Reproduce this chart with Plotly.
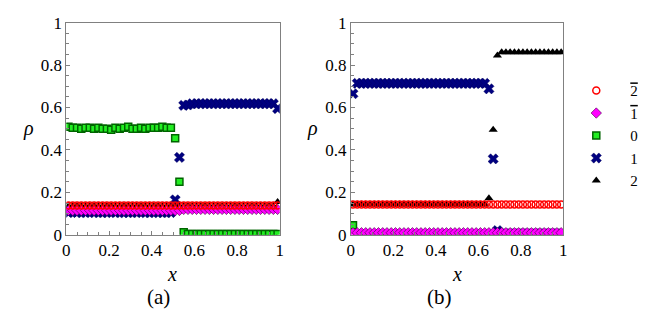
import plotly.graph_objects as go

# ---------------- data ----------------
x = [0.01, 0.03, 0.05, 0.07, 0.09, 0.11, 0.13, 0.15, 0.17, 0.19,
     0.21, 0.23, 0.25, 0.27, 0.29, 0.31, 0.33, 0.35, 0.37, 0.39,
     0.41, 0.43, 0.45, 0.47, 0.49, 0.51, 0.53, 0.55, 0.57, 0.59,
     0.61, 0.63, 0.65, 0.67, 0.69, 0.71, 0.73, 0.75, 0.77, 0.79,
     0.81, 0.83, 0.85, 0.87, 0.89, 0.91, 0.93, 0.95, 0.97, 0.99]

series_names = ['<span style="text-decoration:overline">2</span>',
                '<span style="text-decoration:overline">1</span>',
                "0", "1", "2"]

# panel (a)
a_m2 = [0.138] * 50
a_m1 = [0.115] * 27 + [0.12] * 23
a_0 = [0.51, 0.505, 0.505, 0.50, 0.505, 0.505, 0.50, 0.505, 0.50, 0.50,
       0.495, 0.505, 0.50, 0.505, 0.51, 0.50, 0.50, 0.505, 0.50, 0.505,
       0.505, 0.505, 0.51, 0.505, 0.505, 0.455, 0.25, 0.012] + [0.004] * 22
a_1 = [0.105, 0.108, 0.105, 0.106, 0.105, 0.107, 0.105, 0.106, 0.105, 0.105,
       0.107, 0.105, 0.106, 0.105, 0.105, 0.106, 0.105, 0.107, 0.105, 0.105,
       0.106, 0.105, 0.105, 0.106, 0.105, 0.165, 0.365, 0.61, 0.612] + [0.618] * 20 + [0.595]
a_2 = [0.136] * 49 + [0.155]

# panel (b)
b_m2 = [0.143] * 50
b_m1 = [0.01] * 50
b_0 = [0.045] + [0.003] * 49
b_1 = [0.665] + [0.714] * 31 + [0.688, 0.358, 0.02] + [0.005] * 15
b_2 = [0.143] * 32 + [0.172, 0.495, 0.845] + [0.861] * 15

# ---------------- styles ----------------
styles = [
    dict(symbol="circle-open", size=7, color="#ff0000", line=dict(color="#ff0000", width=1.5)),
    dict(symbol="diamond", size=8, color="#ff00ff", line=dict(color="#400040", width=0.6)),
    dict(symbol="square", size=7, color="#22ee22", line=dict(color="#006400", width=1.5)),
    dict(symbol="x", size=9, color="#000080", line=dict(color="#000060", width=0.5)),
    dict(symbol="triangle-up", size=8, color="#000000", line=dict(color="#000000", width=0)),
]

fig = go.Figure()
panels = [("x", "y", [a_m2, a_m1, a_0, a_1, a_2], True),
          ("x2", "y2", [b_m2, b_m1, b_0, b_1, b_2], False)]

for xa, ya, vals, show in panels:
    # reverse drawing order so the open circles sit on top
    for k in [4, 3, 2, 1, 0]:
        fig.add_trace(go.Scatter(
            x=x, y=vals[k], mode="markers", name=series_names[k],
            marker=styles[k], xaxis=xa, yaxis=ya,
            showlegend=show, legendrank=k + 1))

FONT = "Times New Roman"
LEGFONT = "Liberation Serif"
axis_common = dict(
    range=[0, 1], showgrid=False, zeroline=False,
    showline=True, linecolor="#808080", linewidth=1, mirror=True,
    ticks="inside", ticklen=4, tickcolor="#808080", tickwidth=1,
    tickvals=[0, 0.2, 0.4, 0.6, 0.8, 1],
    ticktext=["0", "0.2", "0.4", "0.6", "0.8", "1"],
    tickfont=dict(family=FONT, size=17, color="#000000"),
    ticklabeloverflow="allow",
    minor=dict(ticks="inside", ticklen=3, tickcolor="#808080", dtick=0.05, showgrid=False),
)

ytop = 1 - 6 / 312
ybot = 1 - 232 / 312
fig.update_layout(
    width=664, height=312, autosize=False,
    margin=dict(l=0, r=0, t=0, b=0),
    paper_bgcolor="white", plot_bgcolor="white",
    xaxis=dict(domain=[55 / 664, 271 / 664], anchor="y", **axis_common),
    yaxis=dict(domain=[ybot, ytop], anchor="x", **axis_common),
    xaxis2=dict(domain=[343 / 664, 558 / 664], anchor="y2", **axis_common),
    yaxis2=dict(domain=[ybot, ytop], anchor="x2", **axis_common),
    legend=dict(x=557 / 664, y=1 - 61 / 312, xanchor="left", yanchor="top",
                font=dict(family=LEGFONT, size=15, color="#000000"),
                bgcolor="rgba(0,0,0,0)", borderwidth=0,
                itemwidth=58, tracegroupgap=0),
    showlegend=True,
)

annots = [
    dict(text="<i>x</i>", x=162 / 664, y=1 - 274 / 312, size=20),
    dict(text="<i>x</i>", x=450 / 664, y=1 - 274 / 312, size=20),
    dict(text="<i>ρ</i>", x=17 / 664, y=1 - 119 / 312, size=20),
    dict(text="<i>ρ</i>", x=304 / 664, y=1 - 119 / 312, size=20),
    dict(text="(a)", x=148 / 664, y=1 - 298 / 312, size=21),
    dict(text="(b)", x=433 / 664, y=1 - 298 / 312, size=21),
]
for a in annots:
    fig.add_annotation(text=a["text"], x=a["x"], y=a["y"], xref="paper", yref="paper",
                       showarrow=False, xanchor="center", yanchor="middle",
                       font=dict(family=FONT, size=a["size"], color="#000000"))

fig.write_html("out.html")
